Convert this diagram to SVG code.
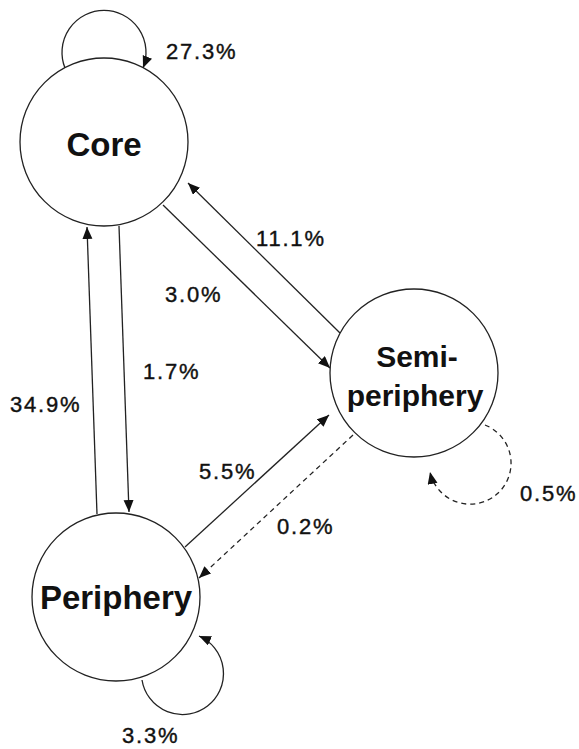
<svg xmlns="http://www.w3.org/2000/svg" width="579" height="749" viewBox="0 0 579 749">
<style>
.node{fill:#fff;stroke:#222;stroke-width:1.3}
.nl{font-family:"Liberation Sans",Arial,sans-serif;font-weight:bold;fill:#111;text-anchor:middle}
.el{font-family:"Liberation Sans",Arial,sans-serif;font-size:22px;letter-spacing:1.8px;fill:#111;stroke:#111;stroke-width:0.4}
.c{fill:none;stroke:#222;stroke-width:1.3;marker-end:url(#ah)}
.d{stroke-dasharray:5 4}
</style>
<defs>
<marker id="ah" markerUnits="userSpaceOnUse" markerWidth="14" markerHeight="12" refX="12" refY="5" orient="auto">
<path d="M0,0 L12,5 L0,10 Z" fill="#111"/>
</marker>
</defs>
<rect width="579" height="749" fill="#fff"/>
<g id="connectors">
<path class="c" d="M65,68 A42,42 0 1 1 143,68"/>
<path class="c" d="M119,226 L129,512"/>
<path class="c" d="M97,514 L87,227"/>
<path class="c" d="M163,205 L330,368"/>
<path class="c" d="M340,333 L188,183"/>
<path class="c" d="M185,547 L329,415"/>
<path class="c d" d="M353,435 L199,578"/>
<path class="c d" d="M485,425 A41,41 0 1 1 430,472"/>
<path class="c" d="M142,680 A41,41 0 1 0 199,636"/>
<text class="el" x="166" y="59">27.3%</text>
<text class="el" x="256" y="246">11.1%</text>
<text class="el" x="165" y="302">3.0%</text>
<text class="el" x="143" y="379">1.7%</text>
<text class="el" x="10" y="412">34.9%</text>
<text class="el" x="199" y="479">5.5%</text>
<text class="el" x="277" y="534">0.2%</text>
<text class="el" x="520" y="501">0.5%</text>
<text class="el" x="122" y="743">3.3%</text>
</g>
<g id="core">
<circle class="node" cx="104" cy="142" r="84"/>
<text class="nl" x="104" y="156" font-size="33">Core</text>
</g>
<g id="semi-periphery">
<circle class="node" cx="414" cy="373" r="84"/>
<text class="nl" x="417" y="367" font-size="30">Semi-</text>
<text class="nl" x="415" y="406" font-size="30">periphery</text>
</g>
<g id="periphery">
<circle class="node" cx="116" cy="597" r="84"/>
<text class="nl" x="116" y="609" font-size="33">Periphery</text>
</g>
</svg>
